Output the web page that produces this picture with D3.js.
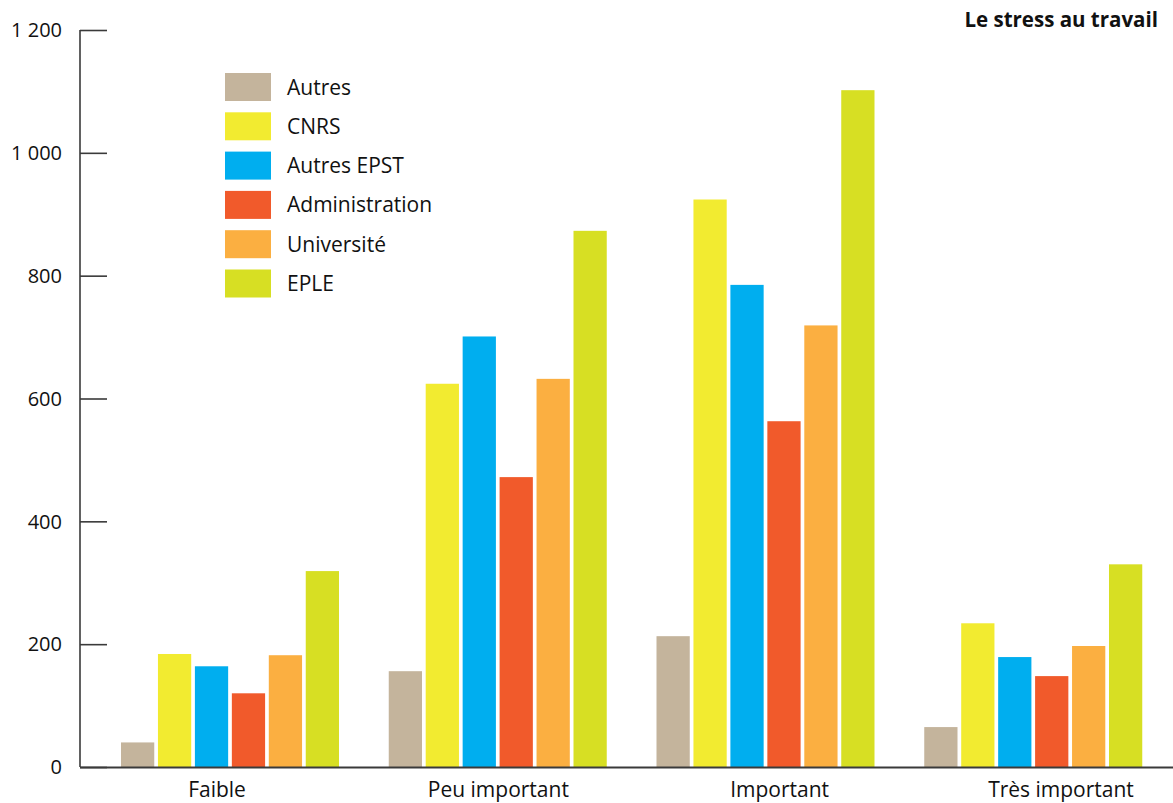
<!DOCTYPE html>
<html>
<head>
<meta charset="utf-8">
<script src="https://cdn.jsdelivr.net/npm/d3@7"></script>
<style>
  html, body { margin: 0; padding: 0; background: #fff; }
  svg { display: block; font-family: "Open Sans", "Lato", sans-serif; }
</style>
</head>
<body>
<svg id="chart" width="1173" height="803"></svg>
<script>
// Stress levels (x categories) and staff groups (series)
const categories = ["Faible", "Peu important", "Important", "Très important"];
const seriesNames = ["Autres", "CNRS", "Autres EPST", "Administration", "Université", "EPLE"];
const seriesColors = ["#c4b49c", "#f2eb30", "#00aeef", "#f15a2b", "#fbaf41", "#d7df23"];

// One array per series, values in category order
const autres         = [40, 156, 213, 65];
const cnrs           = [184, 624, 924, 234];
const autresEpst     = [164, 701, 785, 179];
const administration = [120, 472, 563, 148];
const universite     = [182, 632, 719, 197];
const eple           = [319, 873, 1102, 330];
const seriesValues = [autres, cnrs, autresEpst, administration, universite, eple];

const yTicks = [0, 200, 400, 600, 800, 1000, 1200];
const title = "Le stress au travail";

const svg = d3.select("#chart");

const y = d3.scaleLinear().domain([0, 1200]).range([767, 30]);

// Group placement along the x axis
const x0 = d3.scaleBand().domain(categories).range([121, 1192]).paddingInner(0).paddingOuter(0);
const x1 = d3.scaleBand().domain(seriesNames).range([0, 218]).paddingInner(0.1);
const xLabel = d3.scalePoint().domain(categories).range([217, 1061]);

const fmt = v => d3.format(",")(v).replace(",", " ");

// Bars
const groups = svg.append("g").selectAll("g")
  .data(categories)
  .join("g")
  .attr("transform", d => `translate(${x0(d)},0)`);

groups.selectAll("rect")
  .data((c, i) => seriesNames.map((s, j) => ({ s, j, v: seriesValues[j][i] })))
  .join("rect")
  .attr("x", d => x1(d.s))
  .attr("width", x1.bandwidth())
  .attr("y", d => y(d.v))
  .attr("height", d => y(0) - y(d.v))
  .attr("fill", d => seriesColors[d.j]);

// Y axis with long inward ticks
const yAxis = d3.axisRight(y).tickValues(yTicks).tickSize(27).tickFormat("");
const gy = svg.append("g").attr("transform", "translate(80,0)").call(yAxis);
gy.select(".domain").attr("stroke", "#3a3a3a").attr("stroke-width", 1.6).attr("d", `M0,${y(1200)}V${y(0)}`);
gy.selectAll(".tick line").attr("stroke", "#3a3a3a").attr("stroke-width", 1.6);

svg.append("g").selectAll("text")
  .data(yTicks)
  .join("text")
  .attr("x", 62)
  .attr("y", d => y(d))
  .attr("dy", "0.36em")
  .attr("text-anchor", "end")
  .attr("font-size", 20)
  .attr("fill", "#111")
  .text(fmt);

// X baseline
svg.append("line")
  .attr("x1", 80).attr("x2", 1173)
  .attr("y1", y(0) + 0.5).attr("y2", y(0) + 0.5)
  .attr("stroke", "#3a3a3a").attr("stroke-width", 2);

// Category labels
svg.append("g").selectAll("text")
  .data(categories)
  .join("text")
  .attr("x", d => xLabel(d))
  .attr("y", 797)
  .attr("text-anchor", "middle")
  .attr("font-size", 21)
  .attr("fill", "#111")
  .text(d => d);

// Legend
const legend = svg.append("g").attr("transform", "translate(225,73)");
const rows = legend.selectAll("g")
  .data(seriesNames)
  .join("g")
  .attr("transform", (d, i) => `translate(0,${i * 39.3})`);
rows.append("rect").attr("width", 46).attr("height", 28).attr("fill", (d, i) => seriesColors[i]);
rows.append("text")
  .attr("x", 62).attr("y", 14).attr("dy", "0.36em")
  .attr("font-size", 21).attr("fill", "#111")
  .text(d => d);

// Title
svg.append("text")
  .attr("x", 1158).attr("y", 27)
  .attr("text-anchor", "end")
  .attr("font-size", 20.5)
  .attr("font-weight", "bold")
  .attr("fill", "#111")
  .text(title);
</script>
</body>
</html>
